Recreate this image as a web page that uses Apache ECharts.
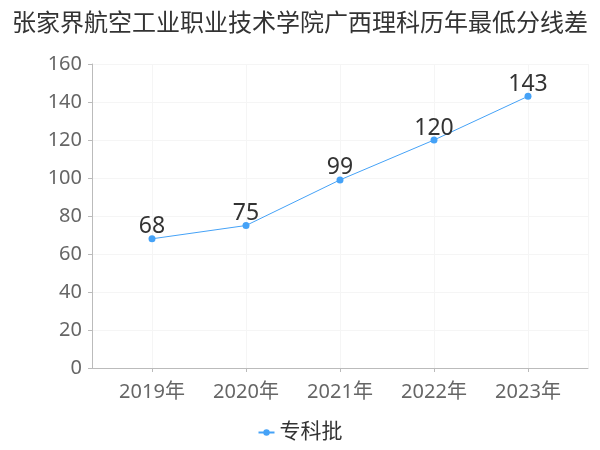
<!DOCTYPE html>
<html><head><meta charset="utf-8">
<script src="https://cdn.jsdelivr.net/npm/echarts@6/dist/echarts.min.js"></script>
<style>html,body{margin:0;padding:0;background:#fff}#c{width:600px;height:450px}</style>
</head><body><div id="c"></div>
<script>
const titleText = '张家界航空工业职业技术学院广西理科历年最低分线差';
const categories = ['2019年', '2020年', '2021年', '2022年', '2023年'];
const seriesName = '专科批';
const values = [68, 75, 99, 120, 143];
const yMin = 0, yMax = 160, yStep = 20;

const chart = echarts.init(document.getElementById('c'));
const font = '"Noto Sans", "Noto Sans CJK SC", sans-serif';
chart.setOption({
  animation: false,
  title: { text: titleText, left: 'center', top: 5, textStyle: { fontSize: 24, fontWeight: 'normal', color: '#333', fontFamily: '"Noto Sans CJK SC", sans-serif' } },
  legend: { bottom: 2, left: 'center', itemWidth: 16, itemHeight: 8, textStyle: { fontSize: 21, color: '#333', fontFamily: font }, data: [seriesName] },
  grid: [
    { left: 92, right: 12, top: 64, bottom: 82 },
    { left: 152, right: 72, top: 64, bottom: 82 }
  ],
  xAxis: [
    { gridIndex: 0, type: 'value', min: 0, max: 1, interval: 1, offset: 4,
      axisLine: { show: true, lineStyle: { color: '#bbb' } }, axisTick: { show: false }, axisLabel: { show: false },
      splitLine: { show: true, lineStyle: { color: '#f5f5f5' } } },
    { gridIndex: 1, type: 'category', data: categories, boundaryGap: false, offset: 4,
      axisLine: { show: false }, axisTick: { show: true, length: 4, lineStyle: { color: '#bbb' } },
      axisLabel: { fontSize: 20, color: '#666', margin: 10, fontFamily: font },
      splitLine: { show: true, lineStyle: { color: '#f5f5f5' } } }
  ],
  yAxis: [
    { gridIndex: 0, type: 'value', min: yMin, max: yMax, interval: yStep, offset: 4,
      axisLine: { show: true, lineStyle: { color: '#bbb' } }, axisTick: { show: true, length: 4, lineStyle: { color: '#bbb' } },
      axisLabel: { fontSize: 20, color: '#666', margin: 6, fontFamily: font },
      splitLine: { show: true, lineStyle: { color: '#f5f5f5' } } },
    { gridIndex: 1, type: 'value', min: yMin, max: yMax, interval: yStep, show: false, splitLine: { show: false } }
  ],
  series: [{
    name: seriesName, type: 'line', xAxisIndex: 1, yAxisIndex: 1, data: values,
    symbol: 'circle', symbolSize: 7,
    itemStyle: { color: '#45a2f7' }, lineStyle: { width: 1, color: '#45a2f7' },
    label: { show: true, position: 'top', fontSize: 23, color: '#333', distance: 2, offset: [0, 5], fontFamily: font }
  }]
});
</script></body></html>
